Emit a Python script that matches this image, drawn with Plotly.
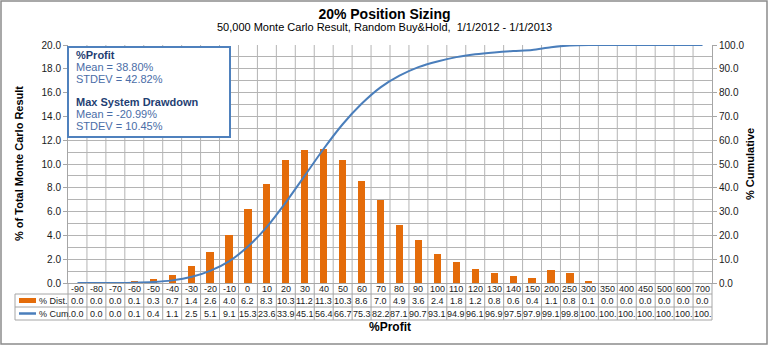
import plotly.graph_objects as go

# Profit buckets (%), distribution and cumulative share of 50,000 simulated runs
categories = ["-90", "-80", "-70", "-60", "-50", "-40", "-30", "-20", "-10", "0",
              "10", "20", "30", "40", "50", "60", "70", "80", "90", "100",
              "110", "120", "130", "140", "150", "200", "250", "300", "350", "400",
              "450", "500", "600", "700"]
pct_dist = [0.0, 0.0, 0.0, 0.1, 0.3, 0.7, 1.4, 2.6, 4.0, 6.2,
            8.3, 10.3, 11.2, 11.3, 10.3, 8.6, 7.0, 4.9, 3.6, 2.4,
            1.8, 1.2, 0.8, 0.6, 0.4, 1.1, 0.8, 0.1, 0.0, 0.0,
            0.0, 0.0, 0.0, 0.0]
pct_cum = [0.0, 0.0, 0.0, 0.1, 0.4, 1.1, 2.5, 5.1, 9.1, 15.3,
           23.6, 33.9, 45.1, 56.4, 66.7, 75.3, 82.2, 87.1, 90.7, 93.1,
           94.9, 96.1, 96.9, 97.5, 97.9, 99.1, 99.8, 100.0, 100.0, 100.0,
           100.0, 100.0, 100.0, 100.0]

stats_profit = ["Mean = 38.80%", "STDEV = 42.82%"]
stats_drawdown = ["Mean = -20.99%", "STDEV = 10.45%"]

W, H = 769, 346
L, R, T, B = 68, 712, 45, 283          # plot area in pixels
n = len(categories)
xs = list(range(n))

ORANGE = "#E46C0A"
BLUE = "#4A7EBB"
GRID = "#B4B4B4"
TBL = "#A6A6A6"
FONT = "Liberation Sans, Arial, sans-serif"


def px_x(p):
    return (p - L) / (R - L)


def px_y(p):
    return (B - p) / (B - T)


fig = go.Figure()
fig.add_trace(go.Bar(x=xs, y=pct_dist, name="% Dist.", marker_color=ORANGE,
                     marker_line_width=0, width=0.38))
fig.add_trace(go.Scatter(x=xs, y=pct_cum, name="% Cum.", yaxis="y2", mode="lines",
                         line=dict(color=BLUE, width=2, shape="spline", smoothing=0.8)))

shapes = []
annotations = []

# column boundaries running through the category row and the data table
col_w = (R - L) / n
for i in range(n + 1):
    xp = L + i * col_w
    shapes.append(dict(type="line", xref="paper", yref="paper",
                       x0=px_x(xp), x1=px_x(xp), y0=px_y(B), y1=px_y(320),
                       line=dict(color=TBL, width=1)))
# vertical grid through the plot area
for i in range(1, n):
    xp = L + i * col_w
    shapes.append(dict(type="line", xref="paper", yref="paper", layer="below",
                       x0=px_x(xp), x1=px_x(xp), y0=0, y1=1,
                       line=dict(color=GRID, width=1)))
# table row lines and legend column edge
for yp in (294, 307, 320):
    shapes.append(dict(type="line", xref="paper", yref="paper",
                       x0=px_x(15), x1=px_x(R), y0=px_y(yp), y1=px_y(yp),
                       line=dict(color=TBL, width=1)))
shapes.append(dict(type="line", xref="paper", yref="paper",
                   x0=px_x(15), x1=px_x(15), y0=px_y(294), y1=px_y(320),
                   line=dict(color=TBL, width=1)))
# legend keys inside the table
shapes.append(dict(type="line", xref="paper", yref="paper",
                   x0=px_x(19), x1=px_x(36), y0=px_y(300.5), y1=px_y(300.5),
                   line=dict(color=ORANGE, width=5)))
shapes.append(dict(type="line", xref="paper", yref="paper",
                   x0=px_x(19), x1=px_x(36), y0=px_y(313.5), y1=px_y(313.5),
                   line=dict(color=BLUE, width=2.5)))
# statistics box
shapes.append(dict(type="rect", xref="paper", yref="paper", layer="above",
                   x0=px_x(68), x1=px_x(230), y0=px_y(137), y1=px_y(47),
                   line=dict(color="#4F81BD", width=2), fillcolor="white"))
# chart border
shapes.append(dict(type="rect", xref="paper", yref="paper",
                   x0=px_x(1), x1=px_x(767), y0=px_y(344), y1=px_y(1),
                   line=dict(color="#8C8C8C", width=1.5)))


def fmt_cell(v):
    s = f"{v:.1f}"
    return s[:4]


cell_font = dict(family=FONT, size=9, color="#1A1A1A")
for i, c in enumerate(categories):
    annotations.append(dict(x=xs[i], xref="x", y=px_y(289), yref="paper", text=c,
                            showarrow=False, font=cell_font, xanchor="center", yanchor="middle"))
    annotations.append(dict(x=xs[i], xref="x", y=px_y(300.5), yref="paper",
                            text=fmt_cell(pct_dist[i]), showarrow=False, font=cell_font,
                            xanchor="center", yanchor="middle"))
    annotations.append(dict(x=xs[i], xref="x", y=px_y(313.5), yref="paper",
                            text=fmt_cell(pct_cum[i]), showarrow=False, font=cell_font,
                            xanchor="center", yanchor="middle"))

annotations.append(dict(x=px_x(37), xref="paper", y=px_y(300.5), yref="paper", text="% Dist.",
                        showarrow=False, font=cell_font, xanchor="left", yanchor="middle"))
annotations.append(dict(x=px_x(37), xref="paper", y=px_y(313.5), yref="paper", text="% Cum.",
                        showarrow=False, font=cell_font, xanchor="left", yanchor="middle"))

# axis titles and subtitle
annotations.append(dict(x=px_x(390), xref="paper", y=px_y(327), yref="paper", text="<b>%Profit</b>",
                        showarrow=False, font=dict(family=FONT, size=12, color="#000"),
                        xanchor="center", yanchor="middle"))
annotations.append(dict(x=px_x(384.5), xref="paper", y=px_y(26.5), yref="paper",
                        text="50,000 Monte Carlo Result, Random Buy&Hold,  1/1/2012 - 1/1/2013",
                        showarrow=False, font=dict(family=FONT, size=11, color="#000"),
                        xanchor="center", yanchor="middle"))
annotations.append(dict(x=px_x(19), xref="paper", y=px_y(164), yref="paper",
                        text="<b>% of Total Monte Carlo Result</b>", textangle=-90,
                        showarrow=False, font=dict(family=FONT, size=11, color="#000"),
                        xanchor="center", yanchor="middle"))
annotations.append(dict(x=px_x(750), xref="paper", y=px_y(164), yref="paper",
                        text="<b>% Cumulative</b>", textangle=-90,
                        showarrow=False, font=dict(family=FONT, size=11, color="#000"),
                        xanchor="center", yanchor="middle"))

# statistics box text
box_lines = [("<b>%Profit</b>", 55, "#1F3F73"),
             (stats_profit[0], 67, "#4A6DA7"),
             (stats_profit[1], 79, "#4A6DA7"),
             ("<b>Max System Drawdown</b>", 102, "#1F3F73"),
             (stats_drawdown[0], 114, "#4A6DA7"),
             (stats_drawdown[1], 126, "#4A6DA7")]
for txt, yp, col in box_lines:
    annotations.append(dict(x=px_x(74), xref="paper", y=px_y(yp), yref="paper", text=txt,
                            showarrow=False, font=dict(family=FONT, size=11, color=col),
                            xanchor="left", yanchor="middle"))

fig.update_layout(
    width=W, height=H,
    margin=dict(l=L, r=W - R, t=T, b=H - B, pad=0),
    paper_bgcolor="white", plot_bgcolor="white",
    showlegend=False, bargap=0,
    title=dict(text="<b>20% Position Sizing</b>", x=0.5, xref="container", xanchor="center",
               y=1 - 14.5 / H, yref="container", yanchor="middle",
               font=dict(family=FONT, size=14, color="#000")),
    font=dict(family=FONT, size=10, color="#1A1A1A"),
    xaxis=dict(range=[-0.5, n - 0.5], showticklabels=False, showgrid=False, zeroline=False,
               showline=True, linecolor=TBL, linewidth=1, ticks=""),
    yaxis=dict(range=[0, 20], dtick=2, tickformat=".1f", showgrid=True, gridcolor=GRID,
               gridwidth=1, zeroline=False, showline=True, linecolor=TBL, ticks="outside",
               ticklen=4, tickcolor=TBL,
               minor=dict(dtick=1, showgrid=True, gridcolor=GRID, gridwidth=1, ticks="")),
    yaxis2=dict(range=[0, 100], dtick=10, tickformat=".1f", overlaying="y", side="right",
                showgrid=False, zeroline=False, showline=True, linecolor=TBL, ticks="outside",
                ticklen=4, tickcolor=TBL),
    shapes=shapes,
    annotations=annotations,
)

fig.write_html("out.html")
